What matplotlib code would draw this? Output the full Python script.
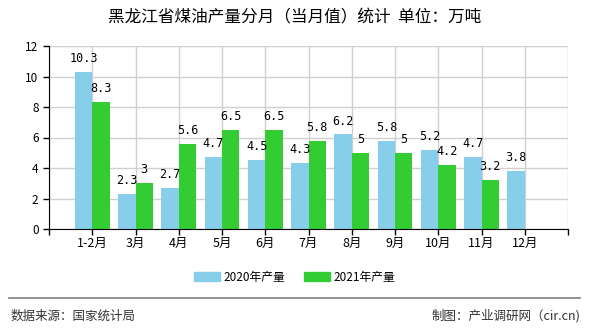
import matplotlib
matplotlib.use("Agg")
import matplotlib.pyplot as plt
import numpy as np

plt.rcParams['font.family'] = ['Noto Sans CJK SC', 'DejaVu Sans']

categories = ["1-2月", "3月", "4月", "5月", "6月", "7月", "8月", "9月", "10月", "11月", "12月"]
values_2020 = [10.3, 2.3, 2.7, 4.7, 4.5, 4.3, 6.2, 5.8, 5.2, 4.7, 3.8]
values_2021 = [8.3, 3, 5.6, 6.5, 6.5, 5.8, 5, 5, 4.2, 3.2, None]
series_names = ["2020年产量", "2021年产量"]
colors = ["#87CEEB", "#33CC33"]
title = "黑龙江省煤油产量分月（当月值）统计  单位：万吨"
source = "数据来源：国家统计局"
credit = "制图：产业调研网（cir.cn)"

fig = plt.figure(figsize=(5.9, 3.3), dpi=100)
ax = fig.add_axes([49/590, 1-229/330, (568-49)/590, (229-46)/330])

x = np.arange(1, len(categories) + 1)
w = 0.4

def fmt(v):
    return f"{v:g}"

for i, (vals, name, c, off) in enumerate(zip([values_2020, values_2021], series_names, colors, [-w/2, w/2])):
    xs = [xi + off for xi, v in zip(x, vals) if v is not None]
    ys = [v for v in vals if v is not None]
    ax.bar(xs, ys, width=w, color=c, label=name, zorder=2)
    for xi, v in zip(xs, ys):
        ax.annotate(fmt(v), (xi, v), xytext=(0, 5), textcoords="offset points",
                    ha="center", va="bottom", fontsize=8.5, family=['DejaVu Sans Mono'])

ax.set_xlim(0, len(categories) + 1)
ax.set_ylim(0, 12)
ax.set_yticks(np.arange(0, 13, 2))
ax.set_xticks(np.arange(0, len(categories) + 2))
ax.set_xticklabels([""] + categories + [""], fontsize=9)
ax.tick_params(axis='y', labelsize=8.5, length=4, width=1, direction='out')
ax.tick_params(axis='x', length=4, width=1, direction='out', pad=2)
ax.grid(True, color="#d0d0d0", linewidth=1, zorder=0)
ax.set_axisbelow(True)
for s in ["top", "right"]:
    ax.spines[s].set_visible(False)
ax.spines["left"].set_color("black")
ax.spines["bottom"].set_color("black")

fig.text(0.5, 1-18/330, title, ha="center", va="center", fontsize=12)

handles = [plt.Rectangle((0, 0), 1, 1, color=c) for c in colors]
fig.legend(handles, series_names, loc="center", bbox_to_anchor=(0.5, 1-277/330), ncol=2,
           frameon=False, fontsize=8.5, handlelength=2.2, handleheight=0.9, columnspacing=1.6,
           handletextpad=0.3)

fig.add_artist(plt.Line2D([9/590, 580/590], [1-298/330, 1-298/330], color="#808080", linewidth=1.2))
fig.text(11/590, 1-316/330, source, ha="left", va="center", fontsize=9, color="#333333")
fig.text(580/590, 1-316/330, credit, ha="right", va="center", fontsize=9, color="#333333")

fig.savefig("out.png", dpi=100)
